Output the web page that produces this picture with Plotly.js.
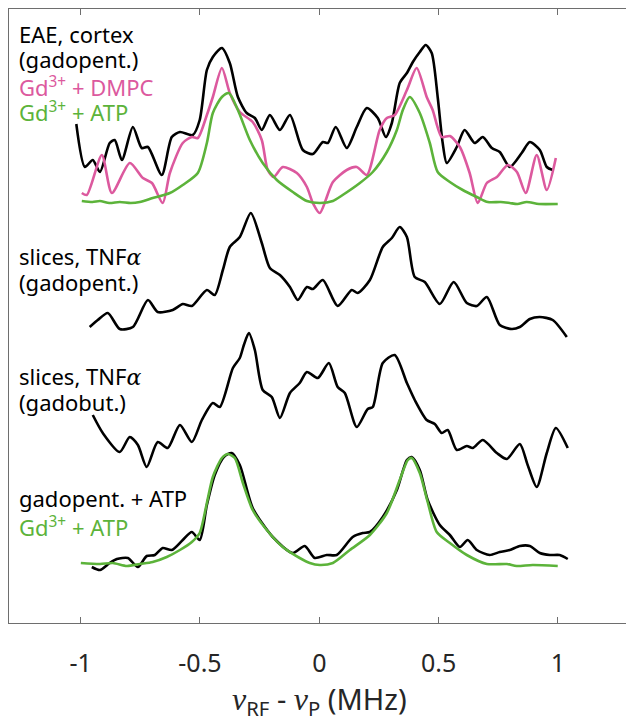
<!DOCTYPE html>
<html>
<head>
<meta charset="utf-8">
<script src="https://cdn.plot.ly/plotly-3.0.1.min.js"></script>
<style>html,body{margin:0;padding:0;overflow:hidden;background:#fff}</style>
</head>
<body>
<div id="chart" style="width:626px;height:719px"></div>
<script>
// Frequency offset nu_RF - nu_P (MHz); intensities are stacked (offset) arbitrary units
const eaeX = [-1.018,-0.982,-0.949,-0.919,-0.878,-0.857,-0.827,-0.781,-0.744,-0.718,-0.660,-0.618,-0.584,-0.530,-0.501,-0.471,-0.446,-0.408,-0.375,-0.341,-0.304,-0.270,-0.241,-0.207,-0.165,-0.123,-0.069,-0.027,0.015,0.036,0.069,0.115,0.157,0.199,0.245,0.279,0.304,0.337,0.367,0.392,0.421,0.446,0.471,0.496,0.517,0.534,0.576,0.609,0.651,0.685,0.723,0.756,0.798,0.848,0.882,0.924,0.953,0.978];
const eaeY = [4.99,4.56,4.63,4.51,4.80,4.83,4.63,4.96,4.75,4.76,4.48,4.86,4.91,4.88,5.03,5.53,5.66,5.75,5.60,5.26,5.10,5.05,4.93,5.08,4.93,5.08,4.73,4.69,4.81,4.80,4.96,4.75,4.96,5.15,5.05,4.86,5.00,5.40,5.50,5.61,5.71,5.78,5.70,5.26,4.80,4.60,4.76,4.93,4.80,4.86,4.75,4.71,4.56,4.70,4.81,4.73,4.56,4.53];

const dmpcX = [-0.995,-0.974,-0.911,-0.869,-0.794,-0.739,-0.701,-0.656,-0.626,-0.572,-0.534,-0.509,-0.471,-0.446,-0.408,-0.375,-0.333,-0.279,-0.241,-0.216,-0.191,-0.153,-0.094,-0.052,-0.027,0.002,0.057,0.115,0.157,0.199,0.253,0.283,0.316,0.367,0.408,0.450,0.475,0.513,0.547,0.589,0.630,0.664,0.702,0.744,0.790,0.828,0.865,0.911,0.953,0.991];
const dmpcY = [4.30,4.28,4.68,4.30,4.60,4.45,4.40,4.20,4.50,4.80,4.86,4.85,5.08,5.26,5.55,5.30,5.11,5.01,4.83,4.53,4.46,4.56,4.50,4.36,4.20,4.10,4.41,4.53,4.56,4.48,4.93,5.05,5.08,5.33,5.55,5.26,5.13,4.86,4.87,4.76,4.50,4.20,4.40,4.46,4.58,4.51,4.30,4.68,4.33,4.65];

const atpTopX = [-0.995,-0.950,-0.919,-0.880,-0.836,-0.790,-0.752,-0.698,-0.626,-0.572,-0.509,-0.471,-0.446,-0.408,-0.379,-0.341,-0.291,-0.237,-0.178,-0.111,-0.052,0.002,0.057,0.098,0.170,0.224,0.283,0.325,0.350,0.379,0.421,0.463,0.496,0.547,0.601,0.660,0.706,0.760,0.798,0.830,0.869,0.920,0.999];
const atpTopY = [4.22,4.21,4.22,4.20,4.21,4.20,4.21,4.25,4.30,4.38,4.50,4.80,5.10,5.26,5.30,5.13,4.83,4.60,4.43,4.31,4.22,4.20,4.22,4.28,4.40,4.51,4.71,4.93,5.13,5.26,5.10,4.80,4.51,4.41,4.33,4.26,4.21,4.21,4.20,4.19,4.21,4.19,4.19];

const tnfPentX = [-0.962,-0.928,-0.886,-0.836,-0.781,-0.718,-0.677,-0.614,-0.572,-0.534,-0.471,-0.438,-0.404,-0.375,-0.333,-0.287,-0.241,-0.207,-0.165,-0.123,-0.090,-0.052,-0.027,0.015,0.077,0.136,0.161,0.212,0.266,0.304,0.337,0.367,0.400,0.442,0.505,0.563,0.618,0.660,0.702,0.756,0.806,0.840,0.882,0.924,0.978,1.037];
const tnfPentY = [2.96,3.03,3.10,2.94,2.96,3.23,3.11,3.13,3.19,3.17,3.33,3.28,3.53,3.76,3.86,4.10,3.80,3.55,3.48,3.36,3.23,3.36,3.34,3.43,3.17,3.33,3.30,3.43,3.76,3.85,3.96,3.86,3.46,3.41,3.19,3.41,3.20,3.17,3.26,2.98,2.94,2.96,3.04,3.06,3.03,2.86];

const tnfButX = [-0.949,-0.907,-0.836,-0.794,-0.760,-0.723,-0.677,-0.635,-0.584,-0.534,-0.492,-0.446,-0.417,-0.362,-0.333,-0.316,-0.295,-0.270,-0.237,-0.199,-0.165,-0.123,-0.082,-0.052,-0.006,0.040,0.077,0.107,0.157,0.203,0.224,0.266,0.316,0.367,0.400,0.450,0.484,0.513,0.538,0.576,0.618,0.643,0.685,0.744,0.786,0.840,0.873,0.911,0.953,0.991,1.041];
const tnfButY = [2.08,1.90,1.71,1.86,1.78,1.56,1.81,1.75,1.98,1.81,2.03,2.20,2.16,2.55,2.65,2.78,2.90,2.73,2.33,2.26,2.05,2.30,2.40,2.51,2.45,2.60,2.36,2.30,1.96,2.14,2.16,2.60,2.68,2.40,2.23,2.03,1.99,1.90,1.93,1.73,1.77,1.75,1.83,1.70,1.64,1.79,1.58,1.36,1.70,1.95,1.75];

const atpBotX = [-0.999,-0.919,-0.865,-0.806,-0.752,-0.698,-0.639,-0.584,-0.534,-0.501,-0.471,-0.446,-0.408,-0.383,-0.354,-0.320,-0.279,-0.220,-0.153,-0.082,-0.040,0.002,0.057,0.128,0.212,0.283,0.337,0.371,0.387,0.421,0.454,0.492,0.547,0.618,0.702,0.786,0.827,0.894,0.999];
const atpBotY = [0.60,0.59,0.60,0.57,0.59,0.61,0.66,0.73,0.81,0.90,1.20,1.46,1.65,1.69,1.65,1.40,1.13,0.93,0.76,0.65,0.60,0.58,0.60,0.73,0.88,1.10,1.43,1.63,1.65,1.50,1.21,0.91,0.80,0.68,0.59,0.59,0.57,0.58,0.57];

const pentAtpX = [-0.953,-0.919,-0.878,-0.848,-0.802,-0.760,-0.723,-0.689,-0.656,-0.618,-0.572,-0.534,-0.501,-0.471,-0.438,-0.400,-0.367,-0.333,-0.279,-0.195,-0.111,-0.061,-0.019,0.031,0.073,0.140,0.182,0.212,0.266,0.325,0.367,0.387,0.421,0.454,0.505,0.547,0.589,0.622,0.660,0.714,0.756,0.798,0.840,0.882,0.924,0.966,1.007,1.041];
const pentAtpY = [0.56,0.53,0.60,0.64,0.65,0.56,0.67,0.68,0.75,0.73,0.83,0.91,0.83,1.18,1.48,1.66,1.70,1.58,1.15,0.86,0.70,0.77,0.65,0.68,0.68,0.86,0.90,0.91,1.06,1.33,1.63,1.66,1.53,1.23,0.98,0.88,0.76,0.83,0.73,0.68,0.71,0.73,0.77,0.77,0.70,0.68,0.68,0.64];

const tickVals = [-1, -0.5, 0, 0.5, 1];
const tickText = ['-1', '-0.5', '0', '0.5', '1'];

const BLACK = '#000000', PINK = '#dc599e', GREEN = '#5cb33a';
function tr(x, y, c) {
  return {x: x, y: y, type: 'scatter', mode: 'lines',
    line: {color: c, width: 2.6, shape: 'spline', smoothing: 0.7},
    hoverinfo: 'skip', showlegend: false};
}
const data = [
  tr(eaeX, eaeY, BLACK), tr(dmpcX, dmpcY, PINK), tr(atpTopX, atpTopY, GREEN),
  tr(tnfPentX, tnfPentY, BLACK), tr(tnfButX, tnfButY, BLACK),
  tr(pentAtpX, pentAtpY, BLACK), tr(atpBotX, atpBotY, GREEN)
];

const FONT = 'Noto Sans, Open Sans, sans-serif';
const alpha = '<span style="font-family:DejaVu Serif"><i>α</i></span>';
function lab(text, y, color) {
  return {text: text, x: -1.267, y: y, xref: 'x', yref: 'y', xanchor: 'left', yanchor: 'middle',
    showarrow: false, align: 'left', font: {family: FONT, size: 22, color: color}};
}
const nu = '<span style="font-family:Liberation Serif;font-size:32px"><i>ν</i></span>';
const annotations = [
  lab('EAE, cortex', 5.89, BLACK),
  lab('(gadopent.)', 5.64, BLACK),
  lab('Gd<sup>3+</sup> + DMPC', 5.37, PINK),
  lab('Gd<sup>3+</sup> + ATP', 5.12, GREEN),
  lab('slices, TNF' + alpha, 3.67, BLACK),
  lab('(gadopent.)', 3.41, BLACK),
  lab('slices, TNF' + alpha, 2.47, BLACK),
  lab('(gadobut.)', 2.21, BLACK),
  lab('gadopent. + ATP', 1.25, BLACK),
  lab('Gd<sup>3+</sup> + ATP', 0.97, GREEN),
  {text: nu + '<sub>RF</sub> - ' + nu + '<sub>P</sub> (MHz)',
   x: 0, y: -0.127, xref: 'x', yref: 'paper', xanchor: 'center', yanchor: 'middle', showarrow: false,
   font: {family: FONT, size: 29, color: '#262626'}}
];

const layout = {
  width: 626, height: 719,
  margin: {l: 9, r: 0, t: 9, b: 96},
  paper_bgcolor: '#ffffff', plot_bgcolor: '#ffffff',
  font: {family: FONT, color: '#262626'},
  xaxis: {range: [-1.3, 1.285], tickvals: tickVals, ticktext: tickText,
    ticks: 'inside', ticklen: 6, tickcolor: '#6e6e6e', tickwidth: 1,
    showline: true, linecolor: '#6e6e6e', linewidth: 1, mirror: 'ticks',
    showgrid: false, zeroline: false, ticklabelstandoff: 18,
    tickfont: {family: FONT, size: 25, color: '#262626'}},
  yaxis: {range: [0, 6.14], showline: true, linecolor: '#6e6e6e', linewidth: 1,
    ticks: '', showticklabels: false, showgrid: false, zeroline: false},
  annotations: annotations
};
Plotly.newPlot('chart', data, layout, {displayModeBar: false, staticPlot: true});
</script>
</body>
</html>
